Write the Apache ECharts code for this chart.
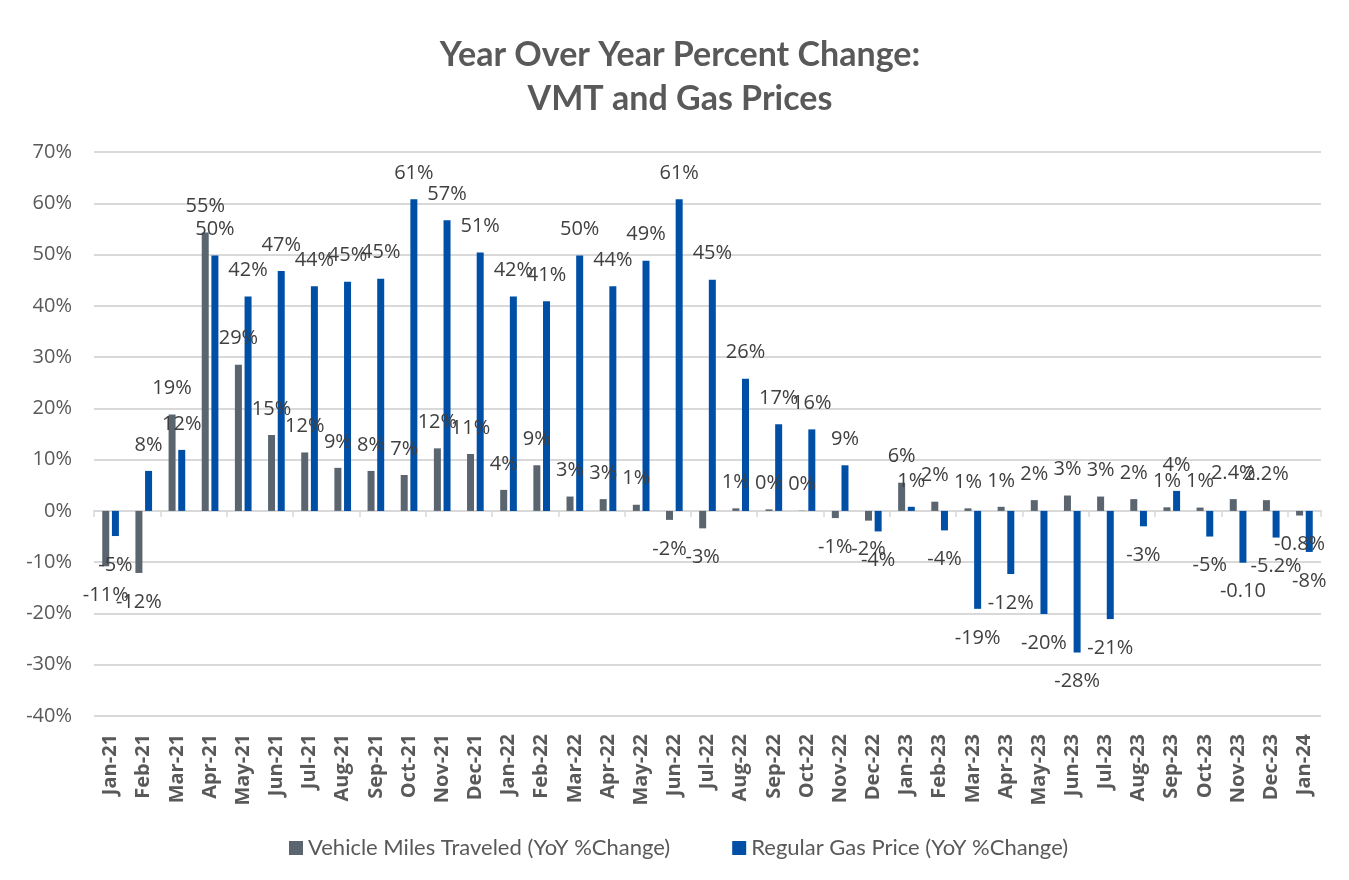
<!doctype html>
<html>
<head>
<meta charset="UTF-8">
<title>VMT and Gas Prices</title>
<script src="https://cdn.jsdelivr.net/npm/echarts@6/dist/echarts.min.js"></script>
<style>
  html, body { margin: 0; padding: 0; background: #fff; }
  #chart { width: 1349px; height: 880px; }
</style>
</head>
<body>
<div id="chart"></div>
<script>
// months on the x axis
var months = ['Jan-21', 'Feb-21', 'Mar-21', 'Apr-21', 'May-21', 'Jun-21', 'Jul-21', 'Aug-21', 'Sep-21', 'Oct-21', 'Nov-21', 'Dec-21',
  'Jan-22', 'Feb-22', 'Mar-22', 'Apr-22', 'May-22', 'Jun-22', 'Jul-22', 'Aug-22', 'Sep-22', 'Oct-22', 'Nov-22', 'Dec-22',
  'Jan-23', 'Feb-23', 'Mar-23', 'Apr-23', 'May-23', 'Jun-23', 'Jul-23', 'Aug-23', 'Sep-23', 'Oct-23', 'Nov-23', 'Dec-23',
  'Jan-24'];

// vehicle miles traveled, yoy % change
var vmt = [-10.8, -12.1, 18.8, 54.3, 28.5, 14.8, 11.4, 8.4, 7.8, 7.0, 12.2, 11.1,
  4.1, 8.9, 2.8, 2.3, 1.2, -1.75, -3.4, 0.5, 0.3, 0.05, -1.4, -1.9,
  5.5, 1.8, 0.5, 0.8, 2.1, 3.0, 2.8, 2.3, 0.7, 0.65, 2.3, 2.1,
  -0.9];
var vmtLabels = ['-11%', '-12%', '19%', '55%', '29%', '15%', '12%', '9%', '8%', '7%', '12%', '11%',
  '4%', '9%', '3%', '3%', '1%', '-2%', '-3%', '1%', '0%', '0%', '-1%', '-2%',
  '6%', '2%', '1%', '1%', '2%', '3%', '3%', '2%', '1%', '1%', '2.4%', '2.2%',
  '-0.8%'];

// regular gas price, yoy % change
var gas = [-4.9, 7.8, 11.9, 49.8, 41.8, 46.8, 43.8, 44.7, 45.3, 60.8, 56.7, 50.4,
  41.8, 40.9, 49.8, 43.8, 48.8, 60.8, 45.1, 25.8, 16.9, 15.9, 8.9, -4.0,
  0.8, -3.8, -19.1, -12.3, -20.1, -27.6, -21.1, -3.0, 3.9, -5.0, -10.1, -5.2,
  -8.0];
var gasLabels = ['-5%', '8%', '12%', '50%', '42%', '47%', '44%', '45%', '45%', '61%', '57%', '51%',
  '42%', '41%', '50%', '44%', '49%', '61%', '45%', '26%', '17%', '16%', '9%', '-4%',
  '1%', '-4%', '-19%', '-12%', '-20%', '-28%', '-21%', '-3%', '4%', '-5%', '-0.10', '-5.2%',
  '-8%'];

var myChart = echarts.init(document.getElementById('chart'));

// labels sit a little further away below negative bars
function barData(values) {
  return values.map(function (v) {
    return { value: v, label: { distance: v < 0 ? 19 : 16 } };
  });
}

function barLabel(labels) {
  return {
    show: true,
    position: 'outside',
    fontFamily: 'Open Sans',
    fontSize: 20,
    color: '#404040',
    formatter: function (p) { return labels[p.dataIndex]; }
  };
}

var option = {
  animation: false,
  backgroundColor: '#fff',
  title: {
    text: 'Year Over Year Percent Change:\nVMT and Gas Prices',
    left: 675,
    top: 28,
    textAlign: 'center',
    textStyle: {
      fontFamily: 'Lato',
      fontWeight: 'bold',
      fontSize: 34,
      lineHeight: 44,
      color: '#595959'
    }
  },
  legend: {
    left: 284,
    top: 832,
    itemWidth: 14,
    itemHeight: 14,
    itemGap: 62,
    icon: 'rect',
    textStyle: { fontFamily: 'Lato', fontSize: 22, color: '#595959' },
    data: ['Vehicle Miles Traveled (YoY %Change)', 'Regular Gas Price (YoY %Change)']
  },
  grid: { left: 94, right: 28, top: 152, bottom: 164 },
  xAxis: [{
    type: 'category',
    data: months,
    position: 'bottom',
    axisLine: { show: false, onZero: false },
    axisTick: { show: false },
    axisLabel: {
      interval: 0,
      rotate: 90,
      margin: 18,
      fontFamily: 'Open Sans',
      fontWeight: 'bold',
      fontSize: 20,
      color: '#595959'
    }
  }, {
    // axis line + ticks sitting on 0%
    type: 'category',
    data: months,
    position: 'bottom',
    axisLine: { show: true, onZero: true, lineStyle: { color: '#d9d9d9', width: 2 } },
    axisTick: { show: true, length: 6, lineStyle: { color: '#d9d9d9', width: 1.5 } },
    axisLabel: { show: false }
  }],
  yAxis: {
    type: 'value',
    min: -40,
    max: 70,
    interval: 10,
    axisLine: { show: false },
    axisTick: { show: false },
    axisLabel: {
      formatter: '{value}%',
      margin: 22,
      fontFamily: 'Open Sans',
      fontSize: 20,
      color: '#595959'
    },
    splitLine: { lineStyle: { color: '#d9d9d9', width: 2 } }
  },
  series: [{
    name: 'Vehicle Miles Traveled (YoY %Change)',
    type: 'bar',
    xAxisIndex: 0,
    barWidth: 7,
    barGap: '38%',
    itemStyle: { color: '#5a6570' },
    label: barLabel(vmtLabels),
    data: barData(vmt)
  }, {
    name: 'Regular Gas Price (YoY %Change)',
    type: 'bar',
    xAxisIndex: 0,
    barWidth: 7,
    barGap: '38%',
    itemStyle: { color: '#004fa6' },
    label: barLabel(gasLabels),
    data: barData(gas)
  }]
};
myChart.setOption(option);
</script>
</body>
</html>
